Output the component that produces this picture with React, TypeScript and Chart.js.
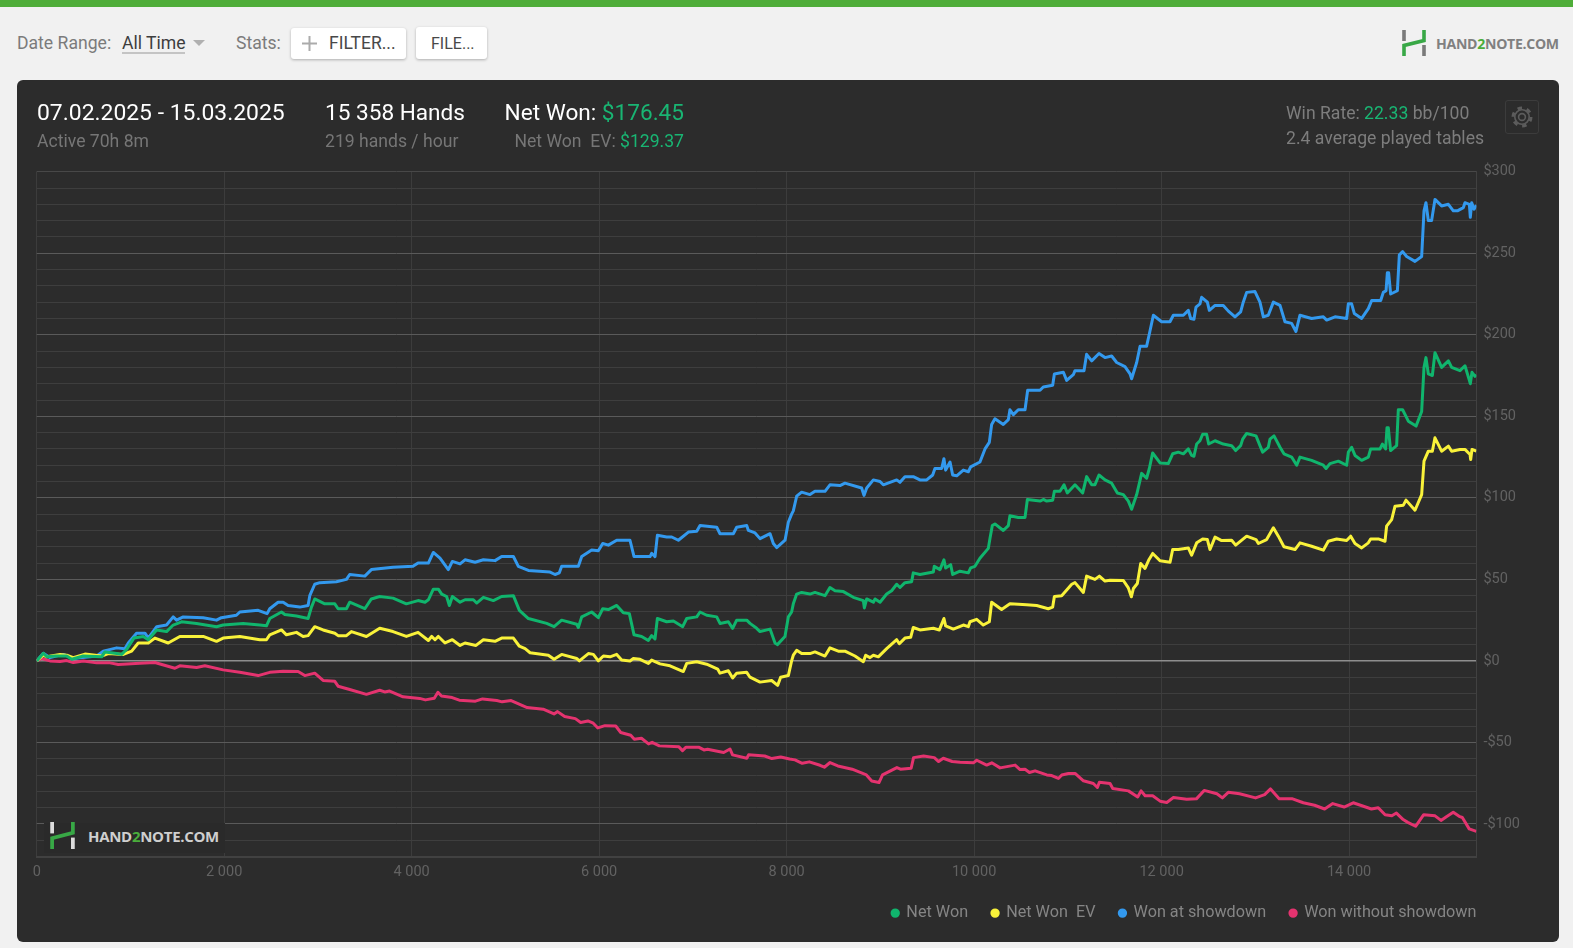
import React, { useEffect, useRef } from "react";
import { Chart, registerables } from "chart.js";

Chart.register(...registerables);

const seriesNames = ["Net Won", "Net Won  EV", "Won at showdown", "Won without showdown"];
const seriesColors = ["#10b56d", "#f9f23a", "#3399ee", "#e4336f"];
const yTickEvery = 50;
const xTickValues = [0, 2000, 4000, 6000, 8000, 10000, 12000, 14000, 15358];

const netWonHands = [0,71,107,195,320,373,497,693,728,853,906,959,1037,1137,1190,1279,1385,1456,1545,1705,1918,1989,2202,2380,2451,2486,2611,2647,2771,2895,2931,2966,3073,3180,3215,3304,3339,3500,3570,3659,3801,3943,4068,4142,4178,4231,4285,4320,4373,4402,4434,4516,4569,4658,4693,4765,4871,4960,5085,5149,5245,5440,5519,5600,5760,5778,5814,5920,5991,6038,6098,6187,6258,6322,6372,6453,6525,6560,6596,6621,6720,6792,6891,6934,7041,7076,7147,7254,7289,7378,7424,7467,7574,7609,7680,7716,7823,7876,7901,7982,8018,8053,8071,8107,8160,8249,8302,8409,8462,8516,8605,8711,8818,8829,8854,8925,8943,8996,9067,9120,9174,9209,9262,9333,9351,9422,9565,9575,9636,9678,9696,9750,9771,9849,9938,9963,10009,10062,10151,10169,10194,10222,10311,10365,10382,10471,10543,10568,10703,10738,10774,10838,10856,10916,10959,10994,11076,11158,11200,11254,11289,11332,11396,11467,11528,11592,11645,11680,11734,11787,11840,11869,11904,11983,12071,12118,12178,12232,12285,12320,12345,12374,12409,12438,12480,12502,12570,12658,12747,12790,12843,12865,12907,13007,13049,13078,13138,13156,13199,13263,13305,13387,13441,13476,13600,13725,13754,13796,13885,13974,13992,14027,14063,14134,14205,14230,14330,14355,14390,14404,14418,14443,14507,14525,14571,14632,14714,14774,14799,14820,14845,14888,14916,14987,15059,15094,15183,15236,15283,15293,15311,15343,15358];
const netWonValues = [0,4.7,2.5,3,3,1,3,2.5,5.5,4.5,4,7,14,15,13,19,18,22,24,23,21,22,23,22,21.5,26,30,28.5,27.5,26,33,38,35,35,32,32,36,32,38,39.5,38.5,35,37,36,37.5,44,44,41,39.5,34,39.5,36,37.5,37.5,35.5,39,37,39.5,40,31,26,23,21,25,22.5,20.5,27,30,26.5,32,31.5,34,29.5,29,16,15,12.5,15.5,13.5,26,24,24.5,21,26,27,30,28,27,23,24,20,25,25,23,20,18,19.5,11,10,15,27,30,35,41,42,41,42,40,45,43,42.5,39,37,32.5,38,36,38,36,41,43,47,45,48,48.5,54,53,54.5,58,56,62,57,59,53,55,54,57,58,63,69,75,83,84,80,83,89,88,88,99,98,99,98,98.5,104,104,108,103,108,103,113,108,108,114,111,109,103,102,98,93,102,115,112,118,127.5,121.4,121,127,128,127,130,126,125.5,133,135,139,139,133,135,133,132,129,132,136,139.5,138,132,128,131,136,138,131,127,125,120,125,123,120,118,121,122.5,120,128,131,126,123,125,130,130,133,130,143,143,129,132,154,154,147,144,153,180,186,176,175,189,180,184,180,178,181,172,170,177,174.5,175.5];

const evHands = [0,71,107,249,320,390,515,693,764,924,1013,1083,1190,1261,1403,1527,1776,1918,1989,2167,2380,2451,2486,2611,2664,2771,2842,2895,2966,3055,3180,3215,3304,3357,3517,3659,3801,3943,4068,4178,4213,4249,4285,4356,4434,4516,4569,4686,4765,4889,4960,5085,5149,5210,5263,5458,5519,5600,5760,5789,5885,5938,5991,6045,6116,6187,6240,6329,6365,6436,6525,6560,6649,6756,6898,6934,7041,7147,7264,7289,7378,7424,7467,7574,7609,7716,7840,7904,7936,8018,8053,8071,8107,8160,8249,8302,8409,8462,8551,8622,8729,8818,8843,8889,8925,8978,9067,9174,9202,9262,9323,9351,9422,9565,9629,9678,9696,9778,9885,9938,9956,10027,10098,10162,10187,10293,10382,10560,10667,10791,10838,10856,10934,11041,11076,11165,11200,11289,11336,11396,11450,11592,11645,11677,11699,11741,11777,11823,11866,11905,11983,12090,12118,12178,12285,12320,12374,12438,12488,12516,12570,12640,12747,12790,12907,13007,13032,13120,13192,13245,13305,13423,13476,13600,13725,13778,13867,13974,14017,14063,14134,14205,14230,14311,14383,14400,14454,14490,14579,14607,14703,14774,14799,14845,14888,14916,14987,15059,15094,15183,15236,15290,15297,15311,15358];
const evValues = [0,3.5,2.5,4,3.5,2,4.2,3,4.5,4,6,11,11,14,11,15,15,12,14,15,13,13,16,19,16,17.5,15,15.5,21,19,17,15.5,15.5,18,15,20,18,15,17.5,12.5,15,13,15,11,13,9.5,11,9.5,13,12,14,14,9,7.5,5,3.5,1,4,1.5,0,4.5,4,0,3,2.5,4,0.5,0,1.5,1,-1.5,0.5,-1.8,-3,-6.5,-1.5,-0.5,-2,-5,-7.5,-6,-10.5,-7.5,-7,-10,-13,-12,-15,-10,-9,0,3.5,6.5,4.5,4.5,5.5,3,8,6,6,3,-0.5,3.5,2,3.5,2.5,7.5,13,10.5,14,14.5,20.5,19,20,19,26,21.5,19.5,22,21,24,25.5,22,24,36,31.5,35,34.5,34,32,33,39.5,40,47,48,42,52,50,52,49,49.5,49.3,44.8,39.3,44.4,47.5,59.7,56.7,62.2,65.9,61.4,60.5,68.3,68.3,69.3,64.8,72.4,74.8,74.4,68.3,75.9,73.8,74,71,76.5,74.4,72,74.4,81.6,76.5,70,68.3,72.4,70.3,67.9,73.4,74.8,73.8,76.5,72,69.3,72.4,74.8,74.8,73.4,82.6,86.7,94.9,95.5,98.6,92.4,102,122.5,128.6,128.6,136.8,128.6,131.7,128.6,129.7,129.7,126.6,123.5,129.7,128.6];

const showdownHands = [0,71,142,284,390,640,710,853,940,977,1065,1155,1190,1280,1385,1456,1492,1563,1776,1918,1970,2130,2167,2362,2458,2486,2575,2629,2682,2806,2895,2913,2966,3020,3197,3304,3339,3500,3570,3801,4014,4068,4178,4231,4302,4391,4434,4516,4569,4676,4765,4889,4960,5085,5138,5245,5476,5529,5575,5600,5778,5814,5920,5991,6038,6098,6187,6329,6372,6543,6560,6596,6621,6720,6774,6845,6952,7041,7076,7254,7289,7431,7467,7574,7592,7663,7716,7823,7858,7894,7983,8018,8053,8071,8107,8160,8249,8302,8409,8462,8569,8622,8800,8825,8854,8925,8996,9031,9174,9209,9262,9351,9422,9494,9558,9582,9654,9678,9696,9743,9771,9814,9885,9938,9963,10062,10116,10162,10187,10222,10311,10365,10382,10418,10471,10543,10571,10703,10738,10838,10856,10952,10987,11058,11076,11172,11200,11254,11332,11396,11467,11521,11609,11663,11680,11734,11770,11840,11869,11912,12000,12089,12125,12232,12285,12310,12345,12367,12409,12427,12488,12509,12570,12658,12712,12783,12843,12871,12907,12996,13049,13085,13138,13192,13263,13316,13387,13433,13476,13600,13725,13761,13850,13974,13992,14027,14056,14134,14205,14241,14337,14365,14394,14408,14422,14443,14515,14536,14571,14614,14703,14774,14799,14820,14845,14880,14916,14987,15059,15112,15155,15219,15236,15283,15293,15308,15333,15358];
const showdownValues = [0,4.7,2,4,1.5,3,6,8,7.5,11,17,17,14,21,22,27,25,27,26.5,25,26.5,28,30,31,29,32,36,36,34,33,34,40,47,48,48.5,50,53,52,56,57.5,58,60,60,66.5,63,56,61,59.5,62,60.5,62,61.5,64,64,58,55.5,54.5,53,54,58,58,64,68,67.5,72,71,74,74,64,64,66,64,77,76,76,74,79,79.5,83,82,78,78,82,83,80,78.5,75,78,72,69.5,74,85,90,92,101,103.5,102,104,104,108,107.5,109,106,101.5,106,111,110,108,111,109.5,113,113,111,111,114,118,118,124,117,122,114,113.5,117,116,119,122,130,134,145,148.5,145,148,154,151,154,154,166,166,168,169,176,177,172,175.5,178,178,188,184,188.5,186,187,183,180.5,176,173,183,193,193,200.5,212,208,208,212,212,215,210,209.5,217,219,223,220,215,218,218,214.5,211,214,220,226,226.5,220,211,212,220,218,208,207,202,212,210,211,209,211,210,219,219,213,210,216,221,221,226,227,238,238,225,227,249,251,248,245,248,276,281,270,270,283,279,280,276,276,278,281,280,272,281,277,279.5];

const noShowdownHands = [0,53,142,249,320,390,497,640,782,870,1101,1261,1474,1527,1705,1794,1989,2167,2362,2486,2629,2789,2860,2966,3055,3180,3215,3339,3517,3659,3712,3765,3908,4085,4146,4241,4280,4318,4432,4508,4680,4756,4908,4965,5061,5232,5403,5518,5556,5632,5746,5803,5880,5937,5986,6062,6177,6230,6337,6375,6451,6527,6565,6642,6851,6889,6927,7061,7118,7156,7328,7396,7423,7575,7594,7766,7842,7937,8032,8089,8166,8242,8356,8402,8463,8546,8699,8851,8908,8985,9023,9176,9214,9328,9354,9461,9575,9621,9671,9766,9850,9992,10028,10134,10188,10277,10437,10490,10543,10590,10650,10775,10828,10899,10935,11006,11077,11166,11272,11315,11336,11450,11479,11646,11745,11781,11824,11905,11984,12055,12126,12268,12371,12454,12590,12648,12711,12832,13002,13099,13162,13254,13390,13511,13632,13739,13826,13947,14044,14238,14311,14384,14456,14505,14577,14626,14709,14796,14917,14980,15038,15111,15174,15208,15281,15358];
const noShowdownValues = [0,1.5,0,-0.3,0.2,-1,0,-1.2,-1.2,-2.2,-1.5,-1,-4.5,-3,-4,-3,-5.5,-7,-9,-7,-6.3,-6.5,-9,-7.5,-12,-12.5,-15.5,-17.5,-20.5,-18,-19,-18.5,-22,-23,-23.9,-22.9,-19.2,-21.5,-22.5,-24.1,-24.7,-23.3,-24.3,-25.1,-24.3,-28.6,-29.6,-32.5,-31.1,-34.1,-35.4,-37.8,-36.8,-38.2,-41.1,-39.7,-39.9,-43.9,-45.6,-48,-47.4,-50.9,-49.9,-52.1,-52.7,-55,-52.9,-52.9,-54.6,-54.2,-56.2,-54,-57.6,-59.7,-57.6,-58.3,-59.9,-58.9,-60.1,-60.7,-62.8,-61.9,-64,-65.2,-62.3,-64.4,-66.4,-69.9,-73.6,-74.6,-69.9,-65.4,-66.4,-65.8,-59.3,-58.3,-59.3,-61.7,-59.7,-61.7,-62.1,-62.5,-60.9,-63.9,-62.5,-65.6,-63.9,-66.6,-66.4,-68.4,-67.4,-69.9,-70.3,-72.1,-70,-69,-69,-73.5,-75.2,-77.6,-74.4,-75.2,-78.2,-79.7,-83.4,-79.7,-82.7,-82.7,-86,-86.8,-83.8,-84.8,-84.6,-79.4,-81.5,-84,-80.6,-81.5,-84,-82,-78.5,-84.5,-84.5,-87,-88.5,-90.8,-87.5,-89.6,-87,-90.8,-90,-94.3,-95,-93.3,-97.3,-99,-101.4,-94.3,-95,-97.8,-95.5,-92.8,-95.3,-96,-103,-104.5];

const PANEL = { left: 17, top: 80, width: 1542, height: 862 };
const PLOT = { left: 36.7, right: 1476.4, top: 171.7, bottom: 856.6 };

const font = "Roboto, sans-serif";

const pts = (h: number[], v: number[]) => h.map((x, i) => ({ x, y: v[i] }));

const T = ({ x, y, size = 17.6, color = "#7d7d7d", right, children, weight = 400 }: any) => (
  <div
    style={{
      position: "absolute",
      ...(right !== undefined ? { right: 1573 - right } : { left: x }),
      top: y - size * 0.6,
      fontSize: size,
      lineHeight: `${size * 1.2}px`,
      color,
      fontWeight: weight,
      whiteSpace: "pre",
      fontFamily: font,
    }}
  >
    {children}
  </div>
);

const Logo = ({ x, y, w, h, topGray, textX, textY, textSize, textColor, textWeight = 700 }: any) => (
  <>
    <svg style={{ position: "absolute", left: x, top: y }} width={w} height={h} viewBox="0 0 24 26">
      <path d="M2 0V11" stroke={topGray} strokeWidth="3.6" fill="none" />
      <path d="M22 26V15" stroke={topGray} strokeWidth="3.6" fill="none" />
      <path d="M22 0V10.5L2 15.5V26" stroke="#38a846" strokeWidth="3.6" fill="none" />
    </svg>
    <div
      style={{
        position: "absolute",
        left: textX,
        top: textY - textSize * 0.6,
        fontFamily: "'Open Sans', sans-serif",
        fontWeight: textWeight,
        fontSize: textSize,
        lineHeight: `${textSize * 1.2}px`,
        letterSpacing: -0.3,
        color: textColor,
        whiteSpace: "pre",
      }}
    >
      HAND<span style={{ color: "#4aad3b" }}>2</span>NOTE.COM
    </div>
  </>
);

const Button = ({ x, y, w, h, children }: any) => (
  <div
    style={{
      position: "absolute",
      left: x,
      top: y,
      width: w,
      height: h,
      background: "#fff",
      borderRadius: 3,
      boxShadow: "0 1px 3px rgba(0,0,0,0.28)",
    }}
  >
    {children}
  </div>
);

export default function App() {
  const ref = useRef<HTMLCanvasElement | null>(null);

  useEffect(() => {
    if (!ref.current) return;
    const xy = [
      pts(netWonHands, netWonValues),
      pts(evHands, evValues),
      pts(showdownHands, showdownValues),
      pts(noShowdownHands, noShowdownValues),
    ];
    const placeLegend = {
      id: "placeLegend",
      afterLayout(chart: any) {
        const l = chart.legend;
        l.right = chart.chartArea.right + 24;
        l.top = 801;
        l.bottom = 841;
      },
    };
    const chart = new Chart(ref.current, {
      type: "line",
      data: {
        datasets: seriesNames.map((label, i) => ({
          label,
          data: xy[i],
          borderColor: seriesColors[i],
          backgroundColor: seriesColors[i],
          borderWidth: 3,
          pointRadius: 0,
          tension: 0,
          borderJoinStyle: "round" as const,
          fill: false,
        })),
      },
      plugins: [placeLegend],
      options: {
        responsive: false,
        animation: false,
        layout: {
          padding: { left: PLOT.left - PANEL.left, top: PLOT.top - PANEL.top, right: 0, bottom: 0 },
        },
        plugins: {
          tooltip: { enabled: false },
          legend: {
            position: "bottom",
            align: "end",
            maxHeight: 40,
            labels: {
              usePointStyle: true,
              pointStyle: "circle",
              boxWidth: 6,
              boxHeight: 4.5,
              padding: 24,
              color: "#858585",
              font: { family: "Roboto", size: 16.2 },
            },
          },
        },
        scales: {
          x: {
            type: "linear",
            min: 0,
            max: 15358,
            afterBuildTicks(s: any) {
              s.ticks = xTickValues.map((value) => ({ value }));
            },
            afterFit(s: any) {
              s.height = 45.4;
            },
            ticks: {
              autoSkip: false,
              maxRotation: 0,
              padding: 7,
              color: "#626262",
              font: { family: "Roboto", size: 14.5 },
              callback: (v: any) =>
                v === 15358 ? "" : String(v).replace(/\B(?=(\d{3})+$)/g, " "),
            },
            grid: { color: "#3c3c3c", lineWidth: 1, tickLength: 0 },
            border: { color: "#414141", width: 2 },
          },
          y: {
            type: "linear",
            position: "right",
            min: -120,
            max: 300,
            afterFit(s: any) {
              s.width = PANEL.left + PANEL.width - PLOT.right;
            },
            ticks: {
              stepSize: 10,
              autoSkip: false,
              padding: 7,
              color: "#626262",
              font: { family: "Roboto", size: 14.5 },
              callback: (v: any) =>
                v % yTickEvery === 0 ? (v < 0 ? `-$${-v}` : `$${v}`) : "",
            },
            grid: {
              tickLength: 0,
              lineWidth: (c: any) => (c.tick.value === 0 ? 1.6 : 1),
              color: (c: any) => {
                const v = c.tick.value;
                if (v === 0) return "#8e8e8e";
                if (v === 300) return "#484848";
                return v % yTickEvery === 0 ? "#5a5a5a" : "#3e3e3e";
              },
            },
            border: { color: "#414141", width: 1 },
          },
        },
      },
    } as any);
    return () => chart.destroy();
  }, []);

  return (
    <div
      style={{
        position: "fixed",
        left: 0,
        top: 0,
        width: 1573,
        height: 948,
        overflow: "hidden",
        background: "#f1f1f1",
        fontFamily: font,
      }}
    >
      <div style={{ position: "absolute", left: 0, top: 0, width: 1573, height: 7, background: "#4fad39" }} />

      <T x={17} y={43.6} color="#7b7b7b">Date Range:</T>
      <T x={122} y={43.6} color="#3d3d3d">All Time</T>
      <div style={{ position: "absolute", left: 122, top: 52, width: 63, height: 2, background: "#c4c4c4" }} />
      <svg style={{ position: "absolute", left: 193, top: 40 }} width={12} height={6}>
        <path d="M0 0H12L6 6Z" fill="#b0b0b0" />
      </svg>
      <T x={236} y={43.6} color="#7b7b7b">Stats:</T>
      <Button x={291} y={28} w={115} h={31} />
      <svg style={{ position: "absolute", left: 302, top: 36 }} width={15} height={15}>
        <path d="M7.5 0V15M0 7.5H15" stroke="#ababab" strokeWidth="2" />
      </svg>
      <T x={329} y={43.5} color="#484848" size={17.5}>FILTER...</T>
      <Button x={416} y={27} w={71} h={32} />
      <T x={431} y={44} color="#484848" size={16}>FILE...</T>

      <Logo
        x={1402} y={30} w={24} h={26} topGray="#7a7a7a"
        textX={1436} textY={44} textSize={14.1} textColor="#808080"
      />

      <div
        style={{
          position: "absolute",
          left: PANEL.left,
          top: PANEL.top,
          width: PANEL.width,
          height: PANEL.height,
          background: "#2c2c2c",
          borderRadius: 6,
        }}
      >
        <canvas ref={ref} width={PANEL.width} height={PANEL.height} style={{ display: "block" }} />
      </div>

      <T x={37} y={112.7} size={22.9} color="#ffffff">07.02.2025 - 15.03.2025</T>
      <T x={37} y={141.8} color="#767676">Active 70h 8m</T>
      <T x={325} y={112.7} size={22.6} color="#ffffff">15 358 Hands</T>
      <T x={325} y={141.8} color="#767676">219 hands / hour</T>
      <T right={684} y={112.7} size={22.6} color="#ffffff">
        Net Won: <span style={{ color: "#19b573" }}>$176.45</span>
      </T>
      <T right={684} y={141.8} color="#767676">
        Net Won  EV: <span style={{ color: "#19b573" }}>$129.37</span>
      </T>
      <T x={1286} y={113.8} color="#7d7d7d">
        Win Rate: <span style={{ color: "#19b573" }}>22.33</span> bb/100
      </T>
      <T x={1286} y={138.8} color="#7d7d7d">2.4 average played tables</T>

      <div
        style={{
          position: "absolute",
          left: 1505,
          top: 100,
          width: 32,
          height: 32,
          border: "1px solid #3c3c3c",
          borderRadius: 3,
        }}
      >
        <svg style={{ position: "absolute", left: 5, top: 5 }} width={22} height={22} viewBox="0 0 22 22">
          <circle cx="11" cy="11" r="3.4" fill="none" stroke="#5c5c5c" strokeWidth="1.6" />
          <circle cx="11" cy="11" r="7.2" fill="none" stroke="#5c5c5c" strokeWidth="1.6" />
          <circle cx="11" cy="11" r="9" fill="none" stroke="#5c5c5c" strokeWidth="3" strokeDasharray="4.5 4.92" />
        </svg>
      </div>

      <div style={{ position: "absolute", left: 44, top: 823, width: 181, height: 30, background: "#2a2a2a" }} />
      <Logo
        x={49} y={822} w={27} h={27} topGray="#dcdcdc"
        textX={88} textY={836} textSize={15} textColor="#cfcfcf"
      />
    </div>
  );
}
